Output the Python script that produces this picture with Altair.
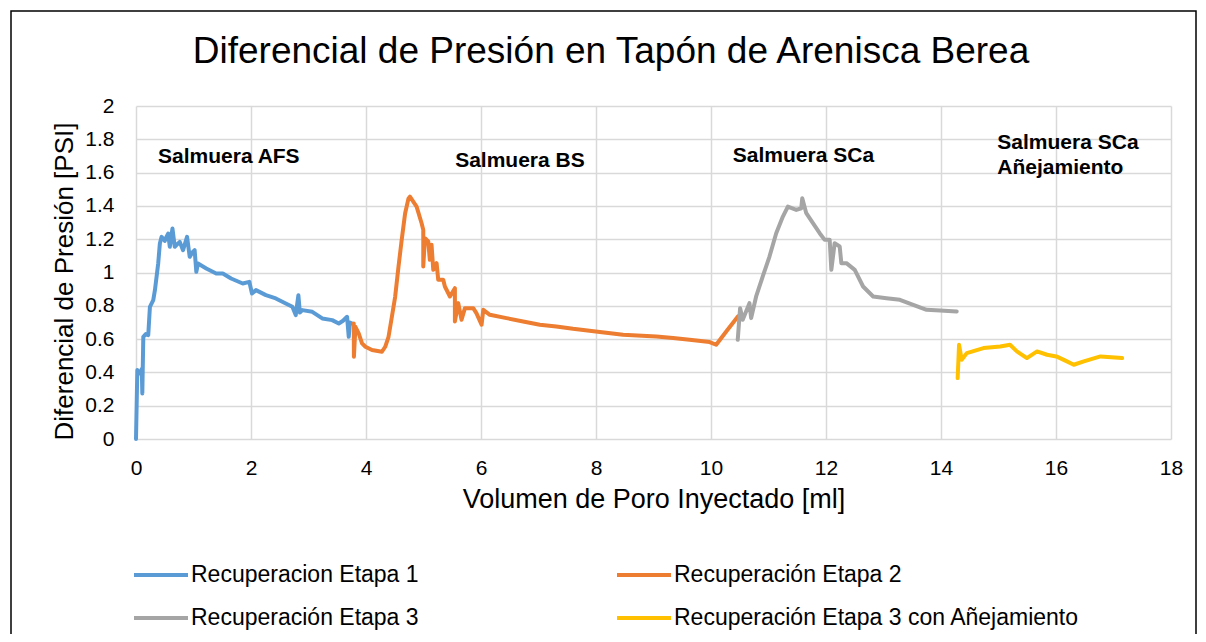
import altair as alt
import pandas as pd

# ---- data ----
s1_x = [0, 0.023, 0.05, 0.069, 0.10, 0.11, 0.127, 0.17, 0.213, 0.242, 0.3, 0.329, 0.386, 0.415, 0.444,
        0.5, 0.53, 0.559, 0.588, 0.634, 0.674, 0.72, 0.761, 0.818, 0.888, 0.934, 0.98, 1.02, 1.049, 1.078,
        1.222, 1.395, 1.51, 1.654, 1.856, 1.971, 2.017, 2.086, 2.259, 2.432, 2.605, 2.72, 2.778, 2.824,
        2.85, 2.893, 3.066, 3.239, 3.412, 3.527, 3.6, 3.671, 3.7, 3.72, 3.758]
s1_y = [0, 0.414, 0.40, 0.394, 0.42, 0.274, 0.614, 0.63, 0.624, 0.794, 0.834, 0.894, 1.054, 1.174, 1.214,
        1.19, 1.214, 1.234, 1.154, 1.264, 1.154, 1.17, 1.184, 1.134, 1.214, 1.094, 1.12, 1.134, 1.004, 1.054,
        1.024, 0.994, 0.994, 0.964, 0.934, 0.944, 0.874, 0.894, 0.864, 0.844, 0.814, 0.794, 0.744, 0.864,
        0.76, 0.774, 0.764, 0.724, 0.714, 0.694, 0.71, 0.734, 0.614, 0.70, 0.694]

s2_x = [3.787, 3.79, 3.816, 3.873, 3.931, 3.99, 4.104, 4.277, 4.334, 4.392, 4.45, 4.507, 4.565, 4.62, 4.68,
        4.738, 4.764, 4.88, 4.967, 4.996, 4.996, 5.025, 5.083, 5.11, 5.14, 5.17, 5.228, 5.256, 5.343, 5.372,
        5.46, 5.546, 5.546, 5.604, 5.662, 5.72, 5.865, 5.92, 6.01, 6.04, 6.154, 6.443, 6.733, 7.023, 7.31,
        7.6, 7.995, 8.47, 9.05, 9.34, 9.628, 9.976, 10.09, 10.265, 10.38, 10.468]
s2_y = [0.694, 0.494, 0.674, 0.634, 0.574, 0.554, 0.534, 0.524, 0.554, 0.614, 0.734, 0.854, 1.034, 1.194, 1.354,
        1.444, 1.456, 1.396, 1.296, 1.256, 1.036, 1.206, 1.186, 1.076, 1.166, 1.016, 1.056, 0.956, 0.956, 0.916,
        0.856, 0.906, 0.706, 0.816, 0.716, 0.786, 0.786, 0.756, 0.686, 0.776, 0.746, 0.726, 0.706, 0.686, 0.676,
        0.662, 0.646, 0.626, 0.616, 0.606, 0.596, 0.582, 0.566, 0.646, 0.696, 0.736]

s3_x = [10.465, 10.506, 10.552, 10.61, 10.669, 10.698, 10.785, 10.9, 11.017, 11.134, 11.25, 11.337, 11.483,
        11.57, 11.587, 11.657, 11.773, 11.89, 11.977, 12.064, 12.093, 12.15, 12.238, 12.267, 12.355, 12.5,
        12.645, 12.82, 13.052, 13.285, 13.517, 13.75, 13.983, 14.273]
s3_y = [0.596, 0.786, 0.716, 0.766, 0.816, 0.726, 0.856, 0.976, 1.096, 1.236, 1.336, 1.396, 1.376,
        1.386, 1.446, 1.356, 1.296, 1.236, 1.196, 1.196, 1.016, 1.176, 1.156, 1.056, 1.056, 1.016,
        0.916, 0.856, 0.846, 0.836, 0.806, 0.776, 0.772, 0.766]

s4_x = [14.29, 14.314, 14.36, 14.448, 14.738, 15.03, 15.2, 15.32, 15.494, 15.67, 15.843, 16.006, 16.19,
        16.308, 16.483, 16.773, 17.15]
s4_y = [0.366, 0.566, 0.476, 0.516, 0.546, 0.556, 0.566, 0.526, 0.486, 0.526, 0.506, 0.496, 0.466,
        0.446, 0.466, 0.496, 0.486]

series_names = ["Recuperacion Etapa 1", "Recuperación Etapa 2", "Recuperación Etapa 3",
                "Recuperación Etapa 3 con Añejamiento"]
series_colors = ["#5b9bd5", "#ed7d31", "#a5a5a5", "#ffc000"]
# legend is filled column by column: this order puts 1|2 on the first row and 3|4 on the second
legend_order = [0, 2, 1, 3]

ann_text = ["Salmuera AFS", "Salmuera BS", "Salmuera SCa", "Salmuera SCa\nAñejamiento"]
ann_x = [0.383, 5.55, 10.38, 14.98]
ann_y = [1.66, 1.635, 1.662, 1.742]

chart_title = "Diferencial de Presión en Tapón de Arenisca Berea"

x_ticks = [0, 2, 4, 6, 8, 10, 12, 14, 16, 18]
y_ticks = [0, 0.2, 0.4, 0.6, 0.8, 1, 1.2, 1.4, 1.6, 1.8, 2]

# ---- build tables ----
rows = []
for name, xs, ys in zip(series_names, [s1_x, s2_x, s3_x, s4_x], [s1_y, s2_y, s3_y, s4_y]):
    for i, (xv, yv) in enumerate(zip(xs, ys)):
        rows.append({"serie": name, "x": xv, "y": yv, "i": i})
df = pd.DataFrame(rows)
ann = pd.DataFrame({"x": ann_x, "y": ann_y, "t": ann_text})

dom = [series_names[k] for k in legend_order]
rng = [series_colors[k] for k in legend_order]

FONT = "Liberation Sans"

x_axis = alt.Axis(values=x_ticks, tickCount=len(x_ticks) + 2, format="~g",
                  title="Volumen de Poro Inyectado [ml]",
                  ticks=False, domain=False, labelFontSize=21, labelPadding=18,
                  labelOverlap=False, labelFlush=False,
                  labelColor="#000000", grid=True, gridColor="#d9d9d9", gridWidth=1.5,
                  titleFontSize=27, titleFontWeight="normal", titleColor="#000000",
                  titleY=68, titleBaseline="alphabetic")
y_axis = alt.Axis(values=y_ticks, tickCount=len(y_ticks) + 2, format="~g",
                  title="Diferencial de Presión [PSI]",
                  ticks=False, domain=False, labelFontSize=21, labelPadding=22,
                  labelOverlap=False, labelFlush=False,
                  labelColor="#000000", grid=True, gridColor="#d9d9d9", gridWidth=1.5,
                  titleFontSize=26, titleFontWeight="normal", titleColor="#000000",
                  titleAngle=270, titleX=-64, titleY=175, titleAlign="center",
                  titleBaseline="alphabetic")
x_scale = alt.Scale(domain=[0, 18], nice=False)
y_scale = alt.Scale(domain=[0, 2], nice=False)

lines = alt.Chart(df).mark_line(strokeWidth=4, strokeJoin="round", strokeCap="round").encode(
    x=alt.X("x:Q", scale=x_scale, axis=x_axis),
    y=alt.Y("y:Q", scale=y_scale, axis=y_axis),
    order="i:Q",
    color=alt.Color("serie:N", sort=dom,
                    scale=alt.Scale(domain=dom, range=rng),
                    legend=alt.Legend(title=None, orient="none", legendX=-4, legendY=440,
                                      columns=2, columnPadding=190, rowPadding=2,
                                      symbolType="stroke", symbolSize=2916, symbolStrokeWidth=4,
                                      labelFontSize=23, labelOffset=1, labelColor="#000000",
                                      labelLimit=600, padding=0)),
)

labels = alt.Chart(ann).mark_text(align="left", baseline="alphabetic", fontWeight="bold",
                                  fontSize=21, lineHeight=25, lineBreak="\n", color="#000000",
                                  font=FONT).encode(
    x=alt.X("x:Q", scale=x_scale, axis=x_axis),
    y=alt.Y("y:Q", scale=y_scale, axis=y_axis),
    text="t:N")

title = alt.Chart(alt.Data(values=[{"t": chart_title}])).mark_text(
    align="center", baseline="alphabetic", fontSize=37, color="#000000", font=FONT).encode(
    x=alt.value(475), y=alt.value(-43), text="t:N")

frame = alt.Chart(alt.Data(values=[{"k": 1}])).mark_rect(fill=None, stroke="#000000", strokeWidth=1.5).encode(
    x=alt.value(-125), x2=alt.value(1060), y=alt.value(-95), y2=alt.value(600))

chart = alt.layer(frame, lines, labels, title).properties(
    width=1035, height=333,
    autosize=alt.AutoSizeParams(type="none"),
    padding={"left": 128, "top": 98, "right": 27, "bottom": 195},
).configure(font=FONT).configure_view(stroke=None)

chart.save("out.html", embed_options={"renderer": "svg", "actions": False})
